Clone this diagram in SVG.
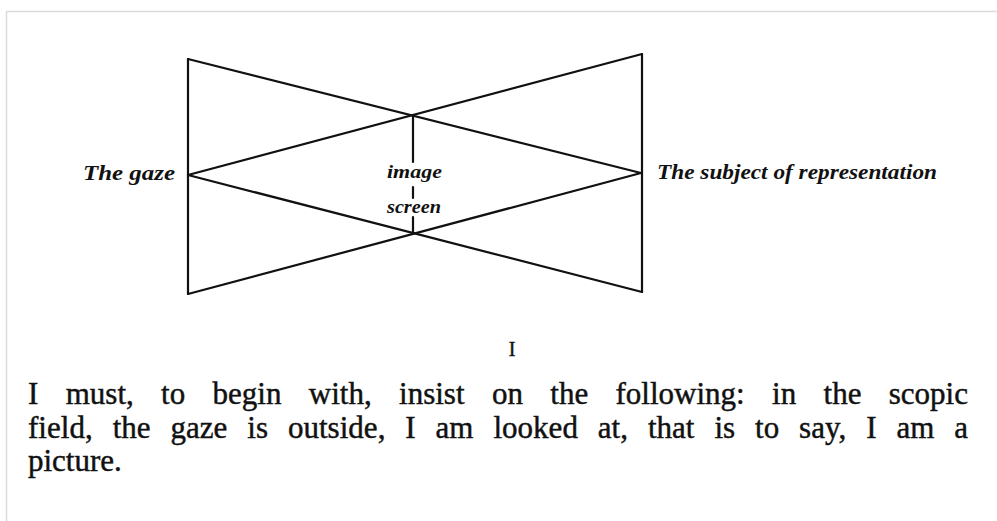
<svg xmlns="http://www.w3.org/2000/svg" width="997" height="521" viewBox="0 0 997 521">
<style>
.ln{stroke:#111;stroke-width:2.2;fill:none;stroke-linecap:round;stroke-linejoin:round}
.lbl{font-family:"Liberation Serif","DejaVu Serif",serif;font-style:italic;font-weight:bold;fill:#111}
.body{font-family:"Liberation Serif","DejaVu Serif",serif;fill:#111;stroke:#111;stroke-width:0.45px;font-size:31px}
</style>
<rect x="0" y="0" width="997" height="521" fill="#fff"/>
<path d="M6.5 521 V11.5 H997" stroke="#dcdcdc" stroke-width="1.5" fill="none"/>
<g id="connectors">
<path class="ln" d="M188 59 V294"/>
<path class="ln" d="M642 54 V292"/>
<path class="ln" d="M188 59 L641 173"/>
<path class="ln" d="M188 175 L642 54"/>
<path class="ln" d="M188 175 L642 292"/>
<path class="ln" d="M188 294 L641 173"/>
<path class="ln" d="M413 115 V162 M413 187 V198 M413 217 V233"/>
</g>
<g id="gaze"><text class="lbl" x="83" y="180" font-size="20" textLength="92" lengthAdjust="spacingAndGlyphs">The gaze</text></g>
<g id="subject"><text class="lbl" x="657" y="179" font-size="20" textLength="280" lengthAdjust="spacingAndGlyphs">The subject of representation</text></g>
<g id="image-screen">
<text class="lbl" x="387" y="178" font-size="19" textLength="55" lengthAdjust="spacingAndGlyphs">image</text>
<text class="lbl" x="387" y="213" font-size="19" textLength="54" lengthAdjust="spacingAndGlyphs">screen</text>
</g>
<g id="caption">
<text class="body" x="512" y="356" style="font-size:20px" text-anchor="middle">I</text>
<text class="body" x="28" y="404" word-spacing="19.6" textLength="940" lengthAdjust="spacing">I must, to begin with, insist on the following: in the scopic</text>
<text class="body" x="28" y="438" word-spacing="12.1" textLength="940" lengthAdjust="spacing">field, the gaze is outside, I am looked at, that is to say, I am a</text>
<text class="body" x="28" y="471">picture.</text>
</g>
</svg>
